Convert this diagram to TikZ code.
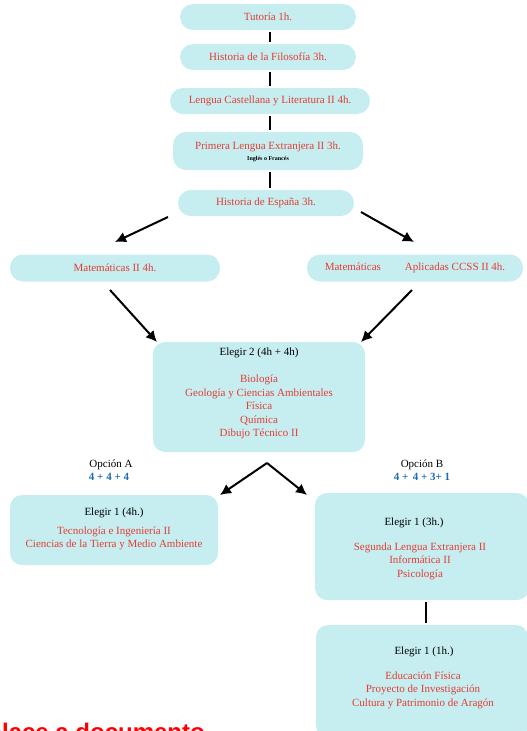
\documentclass[tikz,border=0pt]{standalone}
\usepackage{fontspec}
\setmainfont{Liberation Serif}
\newfontfamily\linkfont{Liberation Sans}
\usetikzlibrary{arrows.meta}
\definecolor{boxfill}{RGB}{198,237,240}
\definecolor{subred}{RGB}{226,62,52}
\definecolor{optblue}{RGB}{28,108,178}
\begin{document}
\begin{tikzpicture}[x=1pt,y=-1pt,
  txt/.style={font=\fontsize{11}{13.5}\selectfont, align=center, inner sep=0pt},
  redtxt/.style={txt, text=subred},
  blktxt/.style={txt, text=black},
  pill/.style={fill=boxfill, draw=none, rounded corners=13pt, inner sep=0pt, redtxt},
  bigbox/.style={fill=boxfill, draw=none, rounded corners=12pt, inner sep=0pt},
  conn/.style={line width=2.6pt, black, shorten <=2pt, shorten >=2pt},
  arr/.style={line width=2pt, black, -{Latex[length=11pt,width=11pt]}},
  bluetxt/.style={txt, text=optblue, font=\fontsize{11}{13.5}\selectfont\bfseries}]
\useasboundingbox (0,0) rectangle (527,731);
\clip (0,0) rectangle (527,731);

% top column
\node[pill, minimum width=176pt, minimum height=26pt] (tut) at (268,17) {Tutoría 1h.};
\node[pill, minimum width=176pt, minimum height=26pt] (hist) at (268,57) {Historia de la Filosofía 3h.};
\node[pill, minimum width=200pt, minimum height=26pt] (leng) at (270,101) {Lengua Castellana y Literatura II 4h.};
\node[pill, minimum width=190pt, minimum height=38pt] (prim) at (268,151) {};
\node[redtxt] (primt) at (268,146.5) {Primera Lengua Extranjera II 3h.};
\node[txt, text=black, font=\fontsize{6}{6}\selectfont\bfseries] (primsub) at (268,159) {Inglés o Francés};
\node[pill, minimum width=176pt, minimum height=26pt] (esp) at (266,203) {Historia de España 3h.};

\draw[conn] (tut.south -| 270,0) -- (hist.north -| 270,0);
\draw[conn] (hist.south -| 270,0) -- (leng.north -| 270,0);
\draw[conn] (leng.south -| 270,0) -- (prim.north -| 270,0);
\draw[conn] (prim.south -| 270,0) -- (esp.north -| 270,0);

% maths
\node[pill, minimum width=210pt, minimum height=27pt] (matA) at (115,268) {Matemáticas II 4h.};
\node[pill, minimum width=216pt, minimum height=27pt] (matB) at (415,268) {Matemáticas\hspace{24pt}Aplicadas CCSS II 4h.};

\coordinate (a1s) at (168,217);
\coordinate (a1e) at (115,242);
\coordinate (a2s) at (361,212);
\coordinate (a2e) at (414,242);
\draw[arr] (a1s) -- (a1e);
\draw[arr] (a2s) -- (a2e);

% elegir 2
\node[bigbox, minimum width=212pt, minimum height=110pt] (el2) at (259,397) {};
\node[blktxt] (el2t) at (259,353) {Elegir 2 (4h + 4h)};
\node[redtxt] (el2l) at (259,407) {Biología\\Geología y Ciencias Ambientales\\Física\\Química\\Dibujo Técnico II};

\coordinate (a3s) at (110,290);
\coordinate (a3e) at (157,342);
\coordinate (a4s) at (412,290);
\coordinate (a4e) at (361,342);
\draw[arr] (a3s) -- (a3e);
\draw[arr] (a4s) -- (a4e);

% options
\node[blktxt] (optA) at (111,465) {Opción A};
\node[bluetxt] (optAn) at (109,477) {4 + 4 + 4};
\node[blktxt] (optB) at (422,465) {Opción B};
\node[bluetxt] (optBn) at (422,477) {4 +\, 4 + 3+ 1};

\coordinate (peak) at (267,463);
\coordinate (a5e) at (220,495);
\coordinate (a6e) at (307,495);
\draw[arr] (peak) -- (a5e);
\draw[arr] (peak) -- (a6e);

% option A box
\node[bigbox, minimum width=208pt, minimum height=70pt] (elA) at (114,530) {};
\node[blktxt] (elAt) at (114,513) {Elegir 1 (4h.)};
\node[redtxt] (elAl) at (114,538.5) {Tecnología e Ingeniería II\\Ciencias de la Tierra y Medio Ambiente};

% option B box
\node[bigbox, minimum width=214pt, minimum height=107pt] (elB) at (422,546.5) {};
\node[blktxt] (elBt) at (414,523) {Elegir 1 (3h.)};
\node[redtxt] (elBl) at (420,561) {Segunda Lengua Extranjera II\\Informática II\\Psicología};

% elegir 1h box
\node[bigbox, minimum width=212pt, minimum height=112pt] (elC) at (422,681) {};
\node[blktxt] (elCt) at (424,652) {Elegir 1 (1h.)};
\node[redtxt] (elCl) at (423,690) {Educación Física\\Proyecto de Investigación\\Cultura y Patrimonio de Aragón};

\draw[conn] (elB.south -| 426,0) -- (elC.north -| 426,0);

% link text (cut off by the page edge, as in the reference)
\node[anchor=base east, inner sep=0pt, text=red, font=\linkfont\fontsize{24}{24}\selectfont\bfseries] (link) at (205,740) {Enlace a documento};
\end{tikzpicture}
\end{document}
